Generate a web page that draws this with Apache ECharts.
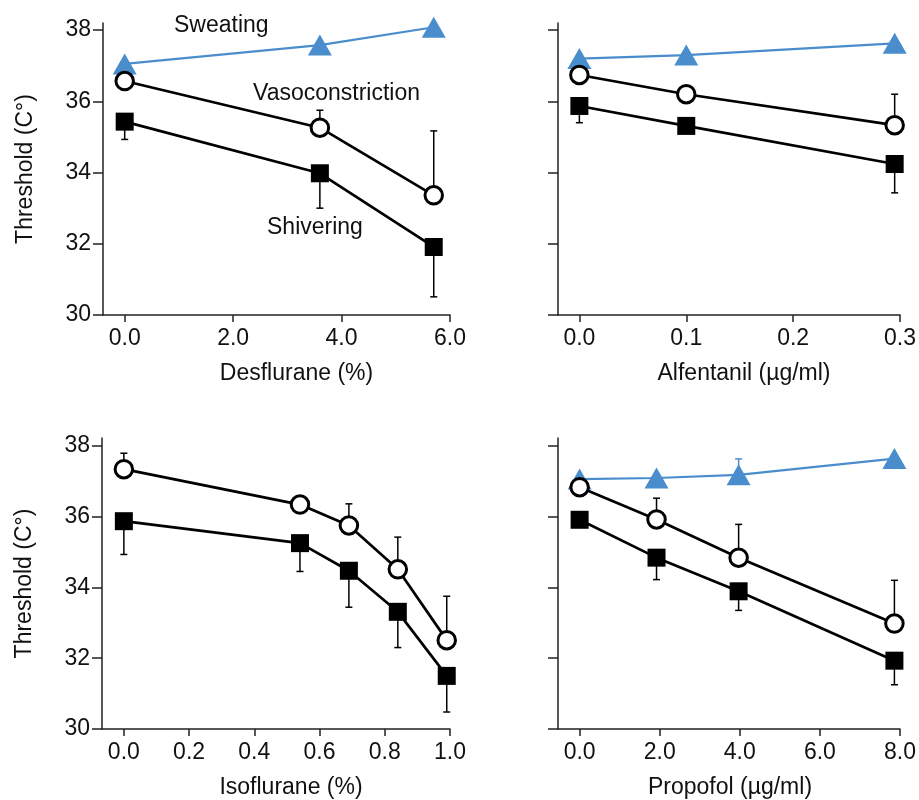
<!DOCTYPE html>
<html>
<head>
<meta charset="utf-8">
<script src="https://cdn.jsdelivr.net/npm/echarts@6/dist/echarts.min.js"></script>
<style>
  html, body { margin: 0; padding: 0; background: #fff; }
  #chart { width: 919px; height: 800px; }
</style>
</head>
<body>
<div id="chart"></div>
<script>
// Desflurane panel
const desDose = [0, 3.6, 5.7];
const desSweat = [37.05, 37.58, 38.08];
const desVaso = [36.57, 35.26, 33.36];
const desVasoTop = [null, 35.75, 35.17];
const desShiv = [35.43, 33.98, 31.91];
const desShivLow = [34.93, 33.0, 30.51];

// Alfentanil panel
const alfDose = [0, 0.1, 0.295];
const alfSweat = [37.2, 37.3, 37.63];
const alfVaso = [36.74, 36.2, 35.33];
const alfVasoTop = [null, null, 36.2];
const alfShiv = [35.87, 35.31, 34.24];
const alfShivLow = [35.4, null, 33.43];

// Isoflurane panel
const isoDose = [0, 0.54, 0.69, 0.84, 0.99];
const isoVaso = [37.34, 36.34, 35.75, 34.51, 32.51];
const isoVasoTop = [37.79, null, 36.36, 35.42, 33.75];
const isoShiv = [35.87, 35.25, 34.47, 33.31, 31.5];
const isoShivLow = [34.93, 34.45, 33.44, 32.3, 30.48];

// Propofol panel
const proDose = [0, 1.92, 3.97, 7.86];
const proSweat = [37.06, 37.09, 37.18, 37.64];
const proSweatTop = [null, null, 37.63, null];
const proVaso = [36.83, 35.92, 34.84, 32.98];
const proVasoTop = [null, 36.52, 35.78, 34.2];
const proShiv = [35.91, 34.84, 33.89, 31.93];
const proShivLow = [null, 34.22, 33.35, 31.25];

const yTicks = [30, 32, 34, 36, 38];
const desTicks = [0, 2, 4, 6];
const alfTicks = [0, 0.1, 0.2, 0.3];
const isoTicks = [0, 0.2, 0.4, 0.6, 0.8, 1.0];
const proTicks = [0, 2, 4, 6, 8];

const BLUE = '#4a8dcd';
const FONT = 'Liberation Sans';
const FS = 23;

const chart = echarts.init(document.getElementById('chart'));

const pairs = (xs, ys) => xs.map((x, i) => [x, ys[i]]);
const bars = (xs, ys, ends) =>
  xs.map((x, i) => [x, ys[i], ends[i]]).filter(d => d[2] != null);

function renderErr(params, api) {
  const a = api.coord([api.value(0), api.value(1)]);
  const b = api.coord([api.value(0), api.value(2)]);
  const st = { stroke: api.visual('color'), lineWidth: 1.5 };
  return {
    type: 'group',
    children: [
      { type: 'line', shape: { x1: a[0], y1: a[1], x2: b[0], y2: b[1] }, style: st },
      { type: 'line', shape: { x1: b[0] - 3.5, y1: b[1], x2: b[0] + 3.5, y2: b[1] }, style: st }
    ]
  };
}

function xAxis(idx, min, max, ticks, name, shift) {
  return {
    type: 'value', gridIndex: idx, min: min, max: max,
    name: name, nameLocation: 'middle', nameGap: 47,
    nameTextStyle: { fontFamily: FONT, fontSize: FS, color: '#111', padding: [0, 0, 0, shift] },
    axisLine: { onZero: false, lineStyle: { color: '#222', width: 1.5 } },
    axisTick: { length: 7, lineStyle: { color: '#222', width: 1.5 }, customValues: ticks },
    axisLabel: {
      customValues: ticks, margin: 12, fontFamily: FONT, fontSize: FS, color: '#111',
      formatter: v => v.toFixed(1)
    },
    splitLine: { show: false }
  };
}

function yAxis(idx, max, showLabels) {
  return {
    type: 'value', gridIndex: idx, min: 30, max: max,
    name: showLabels ? 'Threshold (C°)' : '', nameLocation: 'middle', nameGap: 66,
    nameTextStyle: { fontFamily: FONT, fontSize: FS, color: '#111' },
    axisLine: { show: true, onZero: false, lineStyle: { color: '#222', width: 1.5 } },
    axisTick: { show: true, length: 10, lineStyle: { color: '#222', width: 1.5 }, customValues: yTicks },
    axisLabel: { show: showLabels, customValues: yTicks, margin: 12, fontFamily: FONT, fontSize: FS, color: '#111' },
    splitLine: { show: false }
  };
}

function lineSeries(idx, data, kind) {
  const base = { type: 'line', xAxisIndex: idx, yAxisIndex: idx, data: data, z: 3 };
  if (kind === 'sweat') {
    return Object.assign(base, {
      symbol: 'triangle', symbolSize: [24, 21],
      lineStyle: { color: BLUE, width: 2.2 }, itemStyle: { color: BLUE }
    });
  }
  if (kind === 'vaso') {
    return Object.assign(base, {
      symbol: 'circle', symbolSize: 17.5,
      lineStyle: { color: '#000', width: 2.7 },
      itemStyle: { color: '#fff', borderColor: '#000', borderWidth: 3 }
    });
  }
  return Object.assign(base, {
    symbol: 'rect', symbolSize: 18,
    lineStyle: { color: '#000', width: 2.7 }, itemStyle: { color: '#000' }
  });
}

function errSeries(idx, data, color) {
  return {
    type: 'custom', xAxisIndex: idx, yAxisIndex: idx, data: data,
    renderItem: renderErr, itemStyle: { color: color }, z: 2,
    encode: { x: 0, y: [1, 2] }
  };
}

const textFont = FS + 'px "' + FONT + '"';

const option = {
  backgroundColor: '#fff',
  animation: false,
  grid: [
    { left: 103, top: 23, width: 347, height: 292 },
    { left: 558, top: 23, width: 348, height: 292 },
    { left: 102, top: 438, width: 348, height: 293 },
    { left: 558, top: 438, width: 348, height: 293 }
  ],
  xAxis: [
    xAxis(0, -0.4, 6, desTicks, 'Desflurane (%)', 40),
    xAxis(1, -0.02, 0.3, alfTicks, 'Alfentanil (µg/ml)', 30),
    xAxis(2, -0.067, 1, isoTicks, 'Isoflurane (%)', 30),
    xAxis(3, -0.54, 8, proTicks, 'Propofol (µg/ml)', 2)
  ],
  yAxis: [
    yAxis(0, 38.2, true),
    yAxis(1, 38.2, false),
    yAxis(2, 38.22, true),
    yAxis(3, 38.22, false)
  ],
  graphic: [
    { type: 'text', left: 174, top: 14, style: { text: 'Sweating', font: textFont, fill: '#111' } },
    { type: 'text', left: 253, top: 82, style: { text: 'Vasoconstriction', font: textFont, fill: '#111' } },
    { type: 'text', left: 267, top: 216, style: { text: 'Shivering', font: textFont, fill: '#111' } }
  ],
  series: [
    errSeries(0, bars(desDose, desVaso, desVasoTop), '#000'),
    errSeries(0, bars(desDose, desShiv, desShivLow), '#000'),
    lineSeries(0, pairs(desDose, desSweat), 'sweat'),
    lineSeries(0, pairs(desDose, desVaso), 'vaso'),
    lineSeries(0, pairs(desDose, desShiv), 'shiv'),

    errSeries(1, bars(alfDose, alfVaso, alfVasoTop), '#000'),
    errSeries(1, bars(alfDose, alfShiv, alfShivLow), '#000'),
    lineSeries(1, pairs(alfDose, alfSweat), 'sweat'),
    lineSeries(1, pairs(alfDose, alfVaso), 'vaso'),
    lineSeries(1, pairs(alfDose, alfShiv), 'shiv'),

    errSeries(2, bars(isoDose, isoVaso, isoVasoTop), '#000'),
    errSeries(2, bars(isoDose, isoShiv, isoShivLow), '#000'),
    lineSeries(2, pairs(isoDose, isoVaso), 'vaso'),
    lineSeries(2, pairs(isoDose, isoShiv), 'shiv'),

    errSeries(3, bars(proDose, proSweat, proSweatTop), BLUE),
    errSeries(3, bars(proDose, proVaso, proVasoTop), '#000'),
    errSeries(3, bars(proDose, proShiv, proShivLow), '#000'),
    lineSeries(3, pairs(proDose, proSweat), 'sweat'),
    lineSeries(3, pairs(proDose, proVaso), 'vaso'),
    lineSeries(3, pairs(proDose, proShiv), 'shiv')
  ]
};

chart.setOption(option);
</script>
</body>
</html>
